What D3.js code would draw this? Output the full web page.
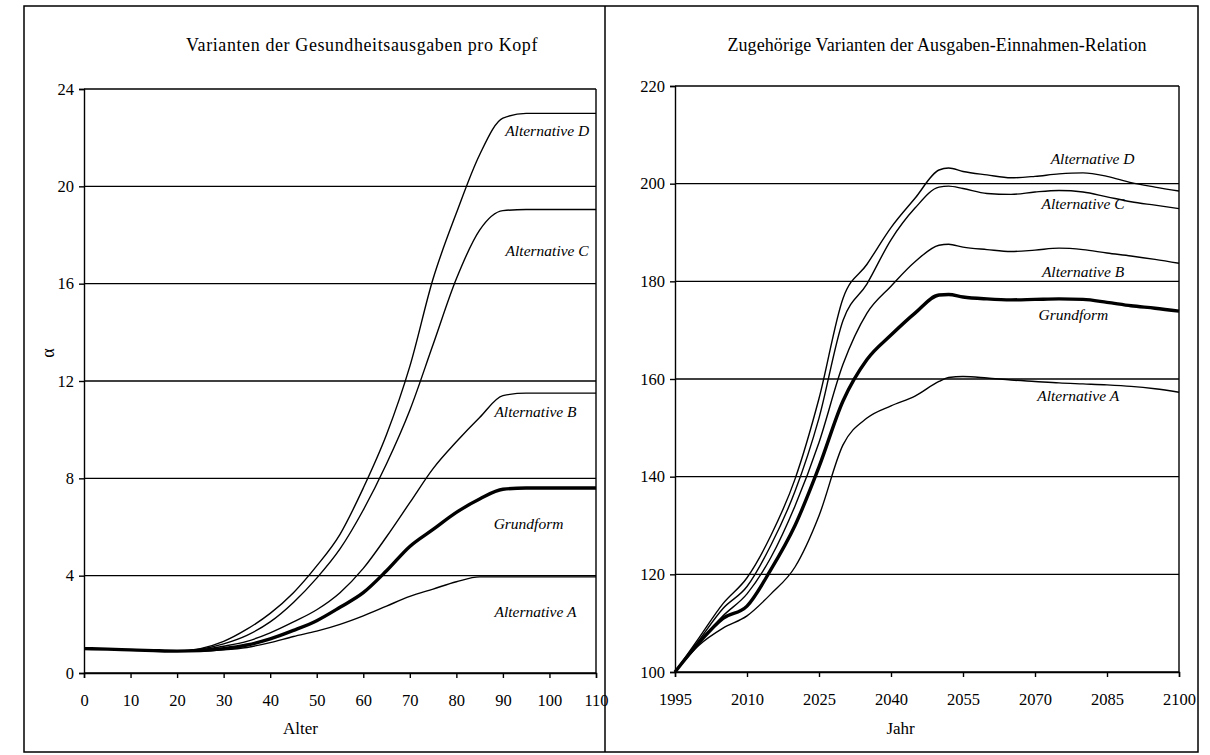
<!DOCTYPE html>
<html>
<head>
<meta charset="utf-8">
<script src="https://cdn.jsdelivr.net/npm/d3@7"></script>
<style>
  body { margin: 0; background: #fff; }
  svg { display: block; font-family: "Liberation Serif", "DejaVu Serif", serif; }
</style>
</head>
<body>
<svg width="1210" height="755"></svg>
<script>
// left panel: Gesundheitsausgaben pro Kopf nach Alter
const ages = [0, 5, 10, 15, 20, 25, 30, 35, 40, 45, 50, 55, 60, 65, 70, 75, 80, 85, 90, 95, 100, 105, 110];
const ageGrund = [1.0, 0.98, 0.95, 0.92, 0.9, 0.92, 1.0, 1.15, 1.4, 1.75, 2.15, 2.7, 3.3, 4.2, 5.2, 5.9, 6.6, 7.15, 7.55, 7.6, 7.6, 7.6, 7.6];
const ageAltA = [1.0, 0.98, 0.95, 0.92, 0.9, 0.9, 0.95, 1.05, 1.25, 1.5, 1.72, 2.0, 2.35, 2.75, 3.15, 3.45, 3.75, 3.95, 3.95, 3.95, 3.95, 3.95, 3.95];
const ageAltB = [1.0, 0.98, 0.95, 0.92, 0.9, 0.95, 1.1, 1.3, 1.65, 2.1, 2.6, 3.3, 4.3, 5.6, 7.0, 8.4, 9.5, 10.5, 11.4, 11.5, 11.5, 11.5, 11.5];
const ageAltC = [1.0, 0.98, 0.95, 0.92, 0.9, 0.98, 1.2, 1.55, 2.1, 2.9, 3.9, 5.1, 6.7, 8.6, 10.8, 13.5, 16.2, 18.2, 19.0, 19.05, 19.05, 19.05, 19.05];
const ageAltD = [1.0, 0.98, 0.95, 0.92, 0.9, 1.0, 1.3, 1.8, 2.45, 3.3, 4.4, 5.7, 7.6, 9.8, 12.6, 16.2, 18.9, 21.3, 22.8, 23.0, 23.0, 23.0, 23.0];
const ageTicks = [0, 10, 20, 30, 40, 50, 60, 70, 80, 90, 100, 110];
const alphaTicks = [0, 4, 8, 12, 16, 20, 24];

// right panel: Ausgaben-Einnahmen-Relation nach Jahr
const years = [1995, 2000, 2005, 2010, 2015, 2020, 2025, 2030, 2035, 2040, 2045, 2050, 2052, 2055, 2060, 2065, 2070, 2075, 2080, 2085, 2090, 2095, 2100];
const relGrund = [100, 106, 111, 113.5, 121, 130, 142, 155.5, 164, 169, 173.5, 177.2, 177.3, 176.8, 176.4, 176.2, 176.3, 176.4, 176.3, 175.7, 175, 174.5, 173.9];
const relAltA = [100, 105.5, 109, 111.5, 116, 121.5, 132, 146.5, 152, 154.5, 156.5, 159.5, 160.3, 160.5, 160.2, 159.8, 159.5, 159.2, 159, 158.8, 158.5, 158, 157.3];
const relAltB = [100, 106, 111.5, 116, 123.5, 134, 147, 163, 173.5, 179, 184, 187.4, 187.6, 187, 186.5, 186.1, 186.4, 186.8, 186.5, 185.8, 185.2, 184.5, 183.7];
const relAltC = [100, 106.5, 113, 117.5, 126, 137, 152, 172, 179.5, 188.5, 195, 199.3, 199.5, 199, 198, 197.8, 198.3, 198.6, 198.3, 197.3, 196.3, 195.6, 194.9];
const relAltD = [100, 107, 114, 119.3, 128, 139.5, 156, 176.5, 183.5, 191, 197, 202.8, 203.2, 202.5, 201.8, 201.2, 201.5, 202, 202.2, 201.5, 200.2, 199.3, 198.5];
const yearTicks = [1995, 2010, 2025, 2040, 2055, 2070, 2085, 2100];
const relTicks = [100, 120, 140, 160, 180, 200, 220];

const svg = d3.select("svg");

// outer frame with divider
svg.append("rect")
    .attr("x", 24).attr("y", 6)
    .attr("width", 1174).attr("height", 746)
    .attr("fill", "none").attr("stroke", "#000").attr("stroke-width", 1.5);
svg.append("line")
    .attr("x1", 605).attr("x2", 605).attr("y1", 6).attr("y2", 752)
    .attr("stroke", "#000").attr("stroke-width", 1.5);

function panel(cfg) {
    const x = d3.scaleLinear().domain(cfg.xDomain).range([cfg.left, cfg.right]);
    const y = d3.scaleLinear().domain(cfg.yDomain).range([cfg.bottom, cfg.top]);
    const g = svg.append("g");

    // gridlines
    g.append("g")
        .selectAll("line")
        .data(cfg.yTicks)
        .join("line")
        .attr("x1", cfg.left).attr("x2", cfg.right)
        .attr("y1", d => y(d)).attr("y2", d => y(d))
        .attr("stroke", "#000").attr("stroke-width", 1.4);

    // right border of plot
    g.append("line")
        .attr("x1", cfg.right).attr("x2", cfg.right)
        .attr("y1", cfg.top).attr("y2", cfg.bottom)
        .attr("stroke", "#000").attr("stroke-width", 1.4);

    const yAxis = g.append("g")
        .attr("transform", `translate(${cfg.left},0)`)
        .call(d3.axisLeft(y).tickValues(cfg.yTicks).tickSize(5).tickPadding(5));
    const xAxis = g.append("g")
        .attr("transform", `translate(0,${cfg.bottom})`)
        .call(d3.axisBottom(x).tickValues(cfg.xTicks).tickSize(5).tickPadding(16).tickFormat(d3.format("d")));
    [yAxis, xAxis].forEach(a => {
        a.select(".domain").attr("stroke", "#000").attr("stroke-width", 1.4);
        a.selectAll(".tick line").attr("stroke", "#000").attr("stroke-width", 1.4);
        a.selectAll(".tick text")
            .attr("fill", "#000")
            .style("font-family", "Liberation Serif, serif")
            .style("font-size", "16.5px");
    });

    const line = d3.line()
        .x((d, i) => x(cfg.xs[i]))
        .y(d => y(d))
        .curve(d3.curveMonotoneX);

    g.append("g")
        .selectAll("path")
        .data(cfg.series)
        .join("path")
        .attr("d", d => line(d.values))
        .attr("fill", "none")
        .attr("stroke", "#000")
        .attr("stroke-width", d => d.bold ? 3.4 : 1.4)
        .attr("stroke-linejoin", "round");

    g.append("g")
        .selectAll("text")
        .data(cfg.series)
        .join("text")
        .attr("x", d => x(d.lx))
        .attr("y", d => y(d.ly))
        .attr("text-anchor", "middle")
        .attr("dominant-baseline", "middle")
        .style("font-style", "italic")
        .style("font-size", "15.5px")
        .text(d => d.name);

    svg.append("text")
        .attr("x", cfg.titleX).attr("y", 51)
        .attr("text-anchor", "middle")
        .style("font-size", "18px")
        .style("letter-spacing", cfg.titleSpacing)
        .text(cfg.title);

    svg.append("text")
        .attr("x", x(cfg.labelAt)).attr("y", 734)
        .attr("text-anchor", "middle")
        .style("font-size", "17px")
        .text(cfg.xLabel);
}

panel({
    title: "Varianten der Gesundheitsausgaben pro Kopf",
    titleX: 362,
    titleSpacing: "0.6px",
    xLabel: "Alter",
    labelAt: 46.5,
    left: 84, right: 596, top: 89, bottom: 673,
    xDomain: [0, 110], yDomain: [0, 24],
    xTicks: ageTicks, yTicks: alphaTicks,
    xs: ages,
    series: [
        { name: "Alternative D", values: ageAltD, lx: 99.5, ly: 22.2 },
        { name: "Alternative C", values: ageAltC, lx: 99.5, ly: 17.3 },
        { name: "Alternative B", values: ageAltB, lx: 97, ly: 10.65 },
        { name: "Grundform", values: ageGrund, lx: 95.5, ly: 6.05, bold: true },
        { name: "Alternative A", values: ageAltA, lx: 97, ly: 2.45 }
    ]
});

panel({
    title: "Zugehörige Varianten der Ausgaben-Einnahmen-Relation",
    titleX: 937,
    titleSpacing: "0.1px",
    xLabel: "Jahr",
    labelAt: 2042,
    left: 675, right: 1179, top: 86, bottom: 672,
    xDomain: [1995, 2100], yDomain: [100, 220],
    xTicks: yearTicks, yTicks: relTicks,
    xs: years,
    series: [
        { name: "Alternative D", values: relAltD, lx: 2082, ly: 204.7 },
        { name: "Alternative C", values: relAltC, lx: 2080, ly: 195.6 },
        { name: "Alternative B", values: relAltB, lx: 2080, ly: 181.7 },
        { name: "Grundform", values: relGrund, lx: 2078, ly: 172.9, bold: true },
        { name: "Alternative A", values: relAltA, lx: 2079, ly: 156.3 }
    ]
});

// y-axis symbol of the left panel
svg.append("text")
    .attr("transform", "translate(50,353) rotate(-90)")
    .attr("text-anchor", "middle")
    .attr("dominant-baseline", "middle")
    .style("font-size", "18px")
    .text("α");
</script>
</body>
</html>
